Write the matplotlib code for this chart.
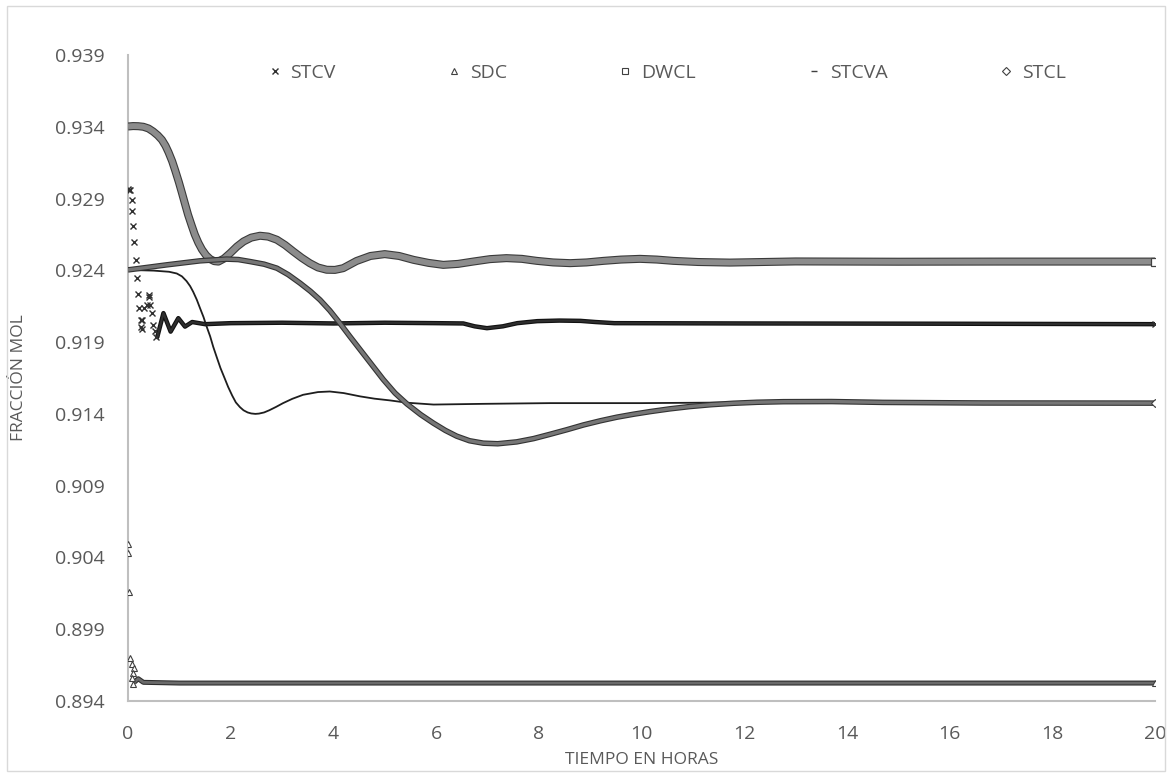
import numpy as np
import matplotlib
matplotlib.use("Agg")
import matplotlib.pyplot as plt
import matplotlib.patheffects as pe
from matplotlib.lines import Line2D
from matplotlib.patches import Rectangle

# ---- series data (time in hours, mole fraction) ----
series_names = ["STCV", "SDC", "DWCL", "STCVA", "STCL"]

# STCV: isolated early samples, then the settled trajectory
stcv_scatter_t = [0.00, 0.02, 0.03, 0.07, 0.085, 0.10, 0.12, 0.15, 0.17, 0.20,
                  0.22, 0.26, 0.26, 0.27, 0.28, 0.32, 0.37, 0.40, 0.41, 0.43,
                  0.47, 0.49, 0.52, 0.55]
stcv_scatter_y = [0.92965, 0.92958, 0.92961, 0.92891, 0.92810, 0.92710, 0.92594,
                  0.92473, 0.92350, 0.92234, 0.92137, 0.92055, 0.92008, 0.91990,
                  0.92055, 0.92137, 0.92160, 0.92217, 0.92225, 0.92160, 0.92106,
                  0.92021, 0.91980, 0.91938]
stcv_t = [0.55, 0.57, 0.69, 0.83, 0.98, 1.11, 1.25, 1.50, 2.0, 3.0, 4.0, 5.0,
          6.0, 6.53, 6.75, 6.99, 7.30, 7.58, 7.97, 8.40, 8.81, 9.10, 9.47,
          12.0, 16.0, 20.0]
stcv_y = [0.91938, 0.91935, 0.92102, 0.91973, 0.92067, 0.92008, 0.92040,
          0.92025, 0.92032, 0.92035, 0.92030, 0.92035, 0.92032, 0.92030,
          0.92010, 0.91997, 0.92010, 0.92032, 0.92046, 0.92050, 0.92048,
          0.92040, 0.92032, 0.92030, 0.92028, 0.92025]

# SDC: early samples, then the settled trajectory
sdc_scatter_t = [0.006, 0.00, 0.025, 0.04, 0.085, 0.12, 0.10, 0.085, 0.10]
sdc_scatter_y = [0.90494, 0.90432, 0.90160, 0.89700, 0.89658, 0.89630,
                 0.89595, 0.89560, 0.89520]
sdc_t = [0.12, 0.20, 0.30, 1.0, 5.0, 10.0, 15.0, 20.0]
sdc_y = [0.89530, 0.89555, 0.89530, 0.89525, 0.89525, 0.89525, 0.89525, 0.89525]

dwcl_t = [0.00, 0.10, 0.20, 0.30, 0.40, 0.49, 0.58, 0.66, 0.73, 0.79, 0.86,
          0.92, 0.99, 1.05, 1.11, 1.17, 1.24, 1.30, 1.37, 1.44, 1.52, 1.60,
          1.68, 1.76, 1.87, 1.99, 2.12, 2.25, 2.40, 2.57, 2.73, 2.90, 3.06,
          3.22, 3.38, 3.54, 3.70, 3.87, 4.03, 4.19, 4.32, 4.45, 4.72, 5.00,
          5.28, 5.56, 5.85, 6.14, 6.43, 6.72, 7.05, 7.37, 7.67, 7.96, 8.28,
          8.61, 8.93, 9.26, 9.60, 9.97, 10.30, 10.62, 11.10, 11.72, 13.0,
          15.0, 17.0, 20.0]
dwcl_y = [0.93402, 0.93405, 0.93404, 0.93400, 0.93388, 0.93367, 0.93340,
          0.93309, 0.93268, 0.93222, 0.93160, 0.93095, 0.93015, 0.92940,
          0.92863, 0.92787, 0.92712, 0.92650, 0.92592, 0.92545, 0.92505,
          0.92478, 0.92464, 0.92461, 0.92482, 0.92520, 0.92565, 0.92601,
          0.92628, 0.92641, 0.92635, 0.92613, 0.92576, 0.92531, 0.92488,
          0.92450, 0.92420, 0.92404, 0.92403, 0.92415, 0.92440, 0.92465,
          0.92500, 0.92513, 0.92500, 0.92473, 0.92452, 0.92438, 0.92445,
          0.92461, 0.92478, 0.92485, 0.92480, 0.92466, 0.92455, 0.92450,
          0.92455, 0.92466, 0.92475, 0.92480, 0.92475, 0.92466, 0.92458,
          0.92454, 0.92462, 0.92460, 0.92461, 0.92461]

stcva_t = [0.00, 0.50, 0.80, 0.95, 1.05, 1.14, 1.21, 1.27, 1.34, 1.40, 1.47,
           1.53, 1.60, 1.66, 1.73, 1.80, 1.88, 1.95, 2.03, 2.10, 2.18, 2.25,
           2.33, 2.40, 2.48, 2.55, 2.65, 2.75, 2.88, 3.02, 3.20, 3.41, 3.70,
           3.93, 4.20, 4.52, 4.80, 5.10, 5.43, 5.95, 6.92, 8.22, 10.0, 12.0,
           15.0, 20.0]
stcva_y = [0.92403, 0.92398, 0.92390, 0.92378, 0.92358, 0.92325, 0.92290,
           0.92250, 0.92195, 0.92139, 0.92075, 0.92010, 0.91940, 0.91867,
           0.91793, 0.91720, 0.91650, 0.91588, 0.91527, 0.91480, 0.91447,
           0.91425, 0.91410, 0.91403, 0.91400, 0.91402, 0.91410, 0.91425,
           0.91448, 0.91475, 0.91505, 0.91533, 0.91552, 0.91556, 0.91545,
           0.91522, 0.91506, 0.91494, 0.91478, 0.91465, 0.91470, 0.91475,
           0.91475, 0.91480, 0.91478, 0.91476]

stcl_t = [0.00, 0.75, 1.40, 1.92, 2.15, 2.38, 2.65, 2.90, 3.12, 3.35, 3.55,
          3.74, 3.93, 4.13, 4.32, 4.58, 4.97, 5.20, 5.43, 5.70, 5.95, 6.18,
          6.40, 6.65, 6.92, 7.20, 7.57, 7.90, 8.22, 8.55, 8.87, 9.20, 9.52,
          9.85, 10.17, 10.55, 10.94, 11.35, 11.79, 12.25, 12.76, 13.70, 14.71,
          16.66, 20.0]
stcl_y = [0.92403, 0.92438, 0.92466, 0.92478, 0.92475, 0.92461, 0.92443,
          0.92415, 0.92370, 0.92311, 0.92255, 0.92194, 0.92120, 0.92030,
          0.91940, 0.91820, 0.91640, 0.91545, 0.91470, 0.91395, 0.91335,
          0.91285, 0.91245, 0.91213, 0.91196, 0.91192, 0.91205, 0.91228,
          0.91258, 0.91290, 0.91323, 0.91352, 0.91377, 0.91398, 0.91416,
          0.91435, 0.91451, 0.91464, 0.91474, 0.91481, 0.91485, 0.91486,
          0.91480, 0.91476, 0.91475]

x_ticks = [0, 2, 4, 6, 8, 10, 12, 14, 16, 18, 20]
y_ticks = [0.894, 0.899, 0.904, 0.909, 0.914, 0.919, 0.924, 0.929, 0.934, 0.939]

# ---- styling ----
plt.rcParams['font.family'] = ['Open Sans', 'DejaVu Sans']
TXT = '#595959'
AXIS = '#BFBFBF'

fig = plt.figure(figsize=(11.72, 7.76), dpi=100)
ax = fig.add_axes([128 / 1172, 75 / 776, 1027 / 1172, 646 / 776])


def band(t, y, width, edge, fill, z):
    ln, = ax.plot(t, y, color=fill, lw=width, solid_capstyle='butt',
                  solid_joinstyle='round', zorder=z)
    ln.set_path_effects([pe.Stroke(linewidth=width + 1.6, foreground=edge),
                         pe.Normal()])
    return ln


# STCV
band(stcv_t, stcv_y, 1.6, '#111111', '#2e2e2e', 3)
ax.plot(stcv_scatter_t, stcv_scatter_y, ls='none', marker='x', ms=4.5,
        mew=1.0, color='#303030', zorder=3)
ax.plot(stcv_t[-1], stcv_y[-1], ls='none', marker='x', ms=4.5, mew=1.0,
        color='#303030', zorder=6)

# SDC
band(sdc_t, sdc_y, 2.0, '#2e2e2e', '#6a6a6a', 4)
ax.plot(sdc_scatter_t, sdc_scatter_y, ls='none', marker='^', ms=5, mew=0.8,
        mfc='white', mec='#404040', zorder=4)
ax.plot(sdc_t[-1], sdc_y[-1], ls='none', marker='^', ms=5, mew=0.8,
        mfc='white', mec='#404040', zorder=6)

# DWCL
band(dwcl_t, dwcl_y, 4.2, '#3a3a3a', '#8c8c8c', 5)
ax.plot(dwcl_t[-1], dwcl_y[-1], ls='none', marker='s', ms=5.5, mew=0.9,
        mfc='white', mec='#404040', zorder=6)

# STCVA
ax.plot(stcva_t, stcva_y, color='#1e1e1e', lw=1.3, zorder=5.5)

# STCL
band(stcl_t, stcl_y, 2.4, '#333333', '#767676', 5.8)
ax.plot(stcl_t[-1], stcl_y[-1], ls='none', marker='D', ms=4, mew=0.8,
        mfc='white', mec='#404040', zorder=6)

# ---- axes ----
ax.set_xlim(0, 20)
ax.set_ylim(0.894, 0.939)
ax.set_xticks(x_ticks)
ax.set_yticks(y_ticks)
ax.set_yticklabels([f"{v:.3f}" for v in y_ticks])
ax.tick_params(axis='both', length=0, labelsize=14, labelcolor=TXT)
ax.tick_params(axis='y', pad=17)
ax.tick_params(axis='x', pad=17)
for side in ('top', 'right'):
    ax.spines[side].set_visible(False)
for side in ('left', 'bottom'):
    ax.spines[side].set_color(AXIS)
    ax.spines[side].set_linewidth(1.5)

ax.set_xlabel("TIEMPO EN HORAS", fontsize=12.5, color=TXT)
ax.set_ylabel("FRACCIÓN MOL", fontsize=12.5, color=TXT)
ax.xaxis.set_label_coords(0.5, -0.079)
ax.yaxis.set_label_coords(-0.0985, 0.5)

# ---- legend ----
handles = [
    Line2D([], [], ls='none', marker='x', ms=4.5, mew=1.0, color='#303030'),
    Line2D([], [], ls='none', marker='^', ms=5, mew=0.8, mfc='white', mec='#404040'),
    Line2D([], [], ls='none', marker='s', ms=5, mew=0.8, mfc='white', mec='#404040'),
    Line2D([], [], ls='none', marker='_', ms=4, mew=1.0, color='#404040'),
    Line2D([], [], ls='none', marker='D', ms=4, mew=0.8, mfc='white', mec='#404040'),
]
ax.legend(handles, series_names, ncol=5, loc='center',
          bbox_to_anchor=(0.524, 0.972), frameon=False, fontsize=14,
          handlelength=0.8, handletextpad=0.4, columnspacing=5.7,
          labelcolor=TXT)

# chart border
fig.patches.append(Rectangle((7 / 1172, 5 / 776), 1158 / 1172, 765 / 776,
                             transform=fig.transFigure, fill=False,
                             edgecolor='#D9D9D9', lw=1))

fig.savefig("out.png", dpi=100)
